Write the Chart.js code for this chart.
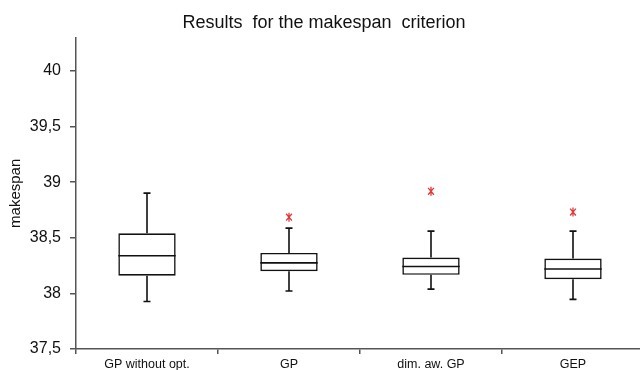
<!DOCTYPE html>
<html>
<head>
<meta charset="utf-8">
<script src="https://cdn.jsdelivr.net/npm/chart.js@4"></script>
<style>
  html, body { margin: 0; padding: 0; background: #fff; overflow: hidden; }
  /* plot runs slightly past the right edge, as in the original figure */
  #wrap { width: 644px; height: 370px; position: relative; }
</style>
</head>
<body>
<div id="wrap"><canvas id="c"></canvas></div>
<script>
// --- DATA ---
const categories = ['GP without opt.', 'GP', 'dim. aw. GP', 'GEP'];
const whiskerLow = [37.927, 38.022, 38.038, 37.946];
const q1 = [38.159, 38.200, 38.167, 38.128];
const medians = [38.338, 38.274, 38.242, 38.220];
const q3 = [38.540, 38.363, 38.322, 38.313];
const whiskerHigh = [38.902, 38.587, 38.560, 38.560];
const outliers = [null, 38.685, 38.918, 38.731];
const tickValues = [37.5, 38, 38.5, 39, 39.5, 40];
const tickLabels = ['37,5', '38', '38,5', '39', '39,5', '40'];

const FONT = "'Liberation Sans', Arial, sans-serif";
const INK = '#111';
const AXIS = '#555';
const OUTLIER = '#e0393a';

// whiskers, medians and outlier asterisks, placed with the chart's scales
const boxPlugin = {
  id: 'boxWhiskers',
  afterDatasetsDraw(chart) {
    const ctx = chart.ctx, y = chart.scales.y;
    const meta = chart.getDatasetMeta(0);
    ctx.save();
    meta.data.forEach((bar, i) => {
      const cx = bar.x, half = bar.width / 2, cap = 3.5;
      const yMin = y.getPixelForValue(whiskerLow[i]);
      const yQ1 = y.getPixelForValue(q1[i]);
      const yMed = y.getPixelForValue(medians[i]);
      const yQ3 = y.getPixelForValue(q3[i]);
      const yMax = y.getPixelForValue(whiskerHigh[i]);
      ctx.strokeStyle = INK;
      ctx.lineWidth = 1.6;
      ctx.beginPath();
      ctx.moveTo(cx, yQ3); ctx.lineTo(cx, yMax);
      ctx.moveTo(cx - cap, yMax); ctx.lineTo(cx + cap, yMax);
      ctx.moveTo(cx, yQ1); ctx.lineTo(cx, yMin);
      ctx.moveTo(cx - cap, yMin); ctx.lineTo(cx + cap, yMin);
      ctx.moveTo(cx - half, yMed); ctx.lineTo(cx + half, yMed);
      ctx.stroke();

      if (outliers[i] != null) {
        const oy = y.getPixelForValue(outliers[i]);
        const r = 4.5;
        ctx.strokeStyle = OUTLIER;
        ctx.lineWidth = 1.3;
        ctx.beginPath();
        ctx.moveTo(cx, oy - r); ctx.lineTo(cx, oy + r);
        [50, 130].forEach(a => {
          const dx = r * Math.cos(a * Math.PI / 180), dy = r * Math.sin(a * Math.PI / 180);
          ctx.moveTo(cx - dx, oy - dy); ctx.lineTo(cx + dx, oy + dy);
        });
        ctx.stroke();
      }
    });
    ctx.restore();
  }
};

new Chart(document.getElementById('c'), {
  type: 'bar',
  data: {
    labels: categories,
    datasets: [
      {
        data: categories.map((_, i) => [q1[i], q3[i]]),
        backgroundColor: '#fff',
        borderColor: INK,
        borderWidth: 1.6,
        borderSkipped: false,
        barPercentage: 0.404,
        categoryPercentage: 1
      }
    ]
  },
  options: {
    responsive: true,
    maintainAspectRatio: false,
    animation: false,
    layout: { padding: { left: 4, right: 0, top: 0, bottom: 0 } },
    plugins: {
      legend: { display: false },
      tooltip: { enabled: false },
      title: {
        display: true,
        text: 'Results  for the makespan  criterion',
        color: INK,
        font: { family: FONT, size: 18, weight: 'normal' },
        padding: { top: 12, bottom: 4 }
      }
    },
    scales: {
      x: {
        offset: true,
        grid: { offset: true, drawOnChartArea: false, drawTicks: true, tickLength: 5, color: AXIS, lineWidth: 1.5 },
        border: { display: true, color: AXIS, width: 1.5 },
        ticks: { color: INK, font: { family: FONT, size: 12.5 }, padding: 3, maxRotation: 0, autoSkip: false },
        afterFit: (s) => { s.height = 21; s.paddingLeft = 0; s.paddingRight = 0; }
      },
      y: {
        min: 37.5,
        max: 40.3,
        afterBuildTicks: (s) => { s.ticks = tickValues.map(v => ({ value: v })); },
        grid: { drawOnChartArea: false, drawTicks: true, tickLength: 6, color: AXIS, lineWidth: 1.5 },
        border: { display: true, color: AXIS, width: 1.5 },
        ticks: {
          color: INK,
          font: { family: FONT, size: 16 },
          padding: 9,
          callback: (v) => tickLabels[tickValues.indexOf(v)]
        },
        title: {
          display: true,
          text: 'makespan',
          color: INK,
          font: { family: FONT, size: 15 },
          padding: { top: 3, bottom: 0 }
        },
        afterFit: (s) => { s.width = 72; }
      }
    }
  },
  plugins: [boxPlugin]
});
</script>
</body>
</html>
